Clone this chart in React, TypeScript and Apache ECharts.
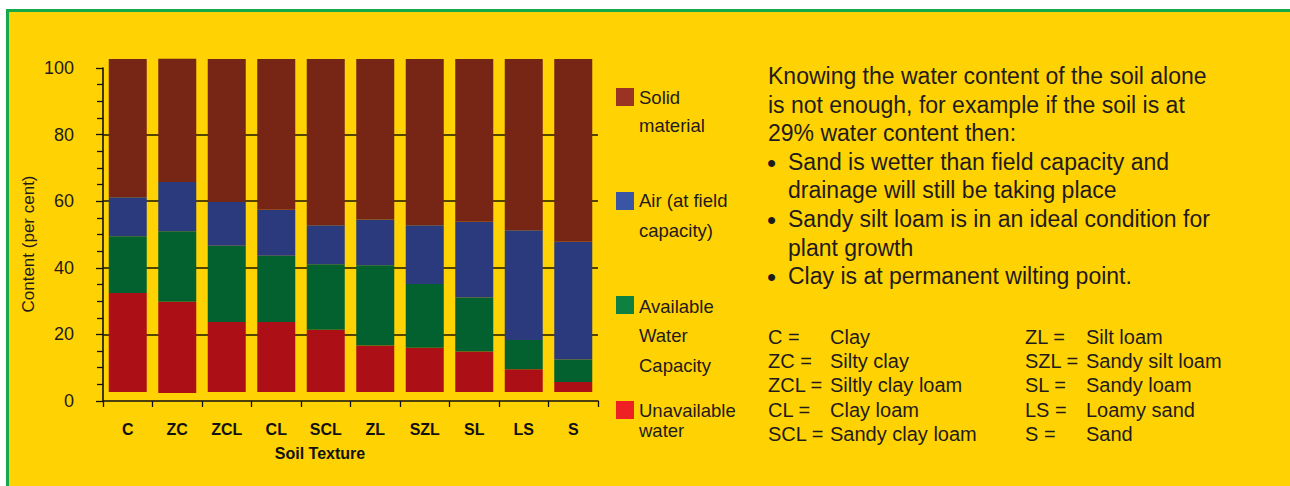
import React, { useEffect, useRef } from "react";
import * as echarts from "echarts";

const categories = ["C", "ZC", "ZCL", "CL", "SCL", "ZL", "SZL", "SL", "LS", "S"];
const baseOffset = [2.7, 2.4, 2.7, 2.7, 2.7, 2.7, 2.7, 2.7, 2.7, 2.7];
const unavailableWater = [29.7, 27.4, 21.0, 21.0, 18.7, 14.0, 13.3, 12.2, 6.8, 3.0];
const availableWater = [17.1, 21.2, 22.9, 19.9, 19.7, 24.1, 19.1, 16.2, 8.8, 6.8];
const airAtFieldCapacity = [11.7, 14.8, 13.2, 13.8, 11.7, 13.7, 17.7, 22.7, 33.0, 35.3];
const solidMaterial = [41.5, 37.0, 42.9, 45.3, 49.9, 48.2, 49.9, 48.9, 51.4, 54.9];

const seriesNames = ["Unavailable water", "Available Water Capacity", "Air (at field capacity)", "Solid material"];
const barColors = ["#ac1016", "#03602f", "#2b3a7c", "#772514"];

// legend, top to bottom
const legendLines = [
  ["Solid", "material"],
  ["Air (at field", "capacity)"],
  ["Available", "Water", "Capacity"],
  ["Unavailable", "water"],
];
const legendColors = ["#9b3322", "#3a55a4", "#0e8040", "#ee2024"];

const noteLines = [
  "Knowing the water content of the soil alone",
  "is not enough, for example if the soil is at",
  "29% water content then:",
];
const bulletLines = [
  ["Sand is wetter than field capacity and", "drainage will still be taking place"],
  ["Sandy silt loam is in an ideal condition for", "plant growth"],
  ["Clay is at permanent wilting point."],
];
const abbrevLeft = [
  ["C =", "Clay"],
  ["ZC =", "Silty clay"],
  ["ZCL =", "Siltly clay loam"],
  ["CL =", "Clay loam"],
  ["SCL =", "Sandy clay loam"],
];
const abbrevRight = [
  ["ZL =", "Silt loam"],
  ["SZL =", "Sandy silt loam"],
  ["SL =", "Sandy loam"],
  ["LS =", "Loamy sand"],
  ["S =", "Sand"],
];

const FONT = "'Liberation Sans', Arial, Helvetica, sans-serif";
const TXT = "#1f1b1c";

function txt(x: number, y: number, text: string, size: number, extra: any = {}) {
  return {
    type: "text",
    x,
    y,
    silent: true,
    style: {
      text,
      fontSize: size,
      fontFamily: FONT,
      fill: TXT,
      align: "left",
      verticalAlign: "middle",
      ...extra,
    },
  };
}

export default function App() {
  const ref = useRef<HTMLDivElement>(null);

  useEffect(() => {
    if (!ref.current) return;
    const chart = echarts.init(ref.current, null, { renderer: "svg" });

    const graphics: any[] = [];
    // axis titles
    graphics.push(txt(320, 453, "Soil Texture", 16, { fontWeight: "bold", align: "center", fill: "#111" }));
    graphics.push({
      ...txt(28, 244, "Content (per cent)", 17, { align: "center" }),
      rotation: Math.PI / 2,
    });

    // legend
    const legendSquareY = [88, 192, 296, 401];
    const legendLineY = [
      [97, 125],
      [200, 230],
      [306, 335, 365],
      [410, 430],
    ];
    legendLines.forEach((lines, i) => {
      graphics.push({
        type: "rect",
        silent: true,
        shape: { x: 616, y: legendSquareY[i], width: 18, height: 18 },
        style: { fill: legendColors[i] },
      });
      lines.forEach((l, j) => graphics.push(txt(639, legendLineY[i][j], l, 18.5)));
    });

    // notes
    let y = 76;
    const lh = 28.6;
    noteLines.forEach((l) => {
      graphics.push(txt(768, y, l, 23));
      y += lh;
    });
    bulletLines.forEach((b) => {
      graphics.push(txt(767, y + 1, "\u2022", 26));
      b.forEach((l) => {
        graphics.push(txt(788, y, l, 23));
        y += lh;
      });
    });

    // abbreviations
    abbrevLeft.forEach((a, i) => {
      const yy = 337 + i * 24.2;
      graphics.push(txt(768, yy, a[0], 20));
      graphics.push(txt(830, yy, a[1], 20));
    });
    abbrevRight.forEach((a, i) => {
      const yy = 337 + i * 24.2;
      graphics.push(txt(1025, yy, a[0], 20));
      graphics.push(txt(1086, yy, a[1], 20));
    });

    const dataSets = [unavailableWater, availableWater, airAtFieldCapacity, solidMaterial];

    chart.setOption({
      animation: false,
      backgroundColor: "transparent",
      textStyle: { fontFamily: FONT },
      grid: { left: 103, top: 68, right: 692, bottom: 85, containLabel: false },
      xAxis: {
        type: "category",
        data: categories,
        axisLine: { show: true, lineStyle: { color: "#111", width: 1.6 } },
        axisTick: { show: true, length: 6, lineStyle: { color: "#111", width: 1.3 } },
        axisLabel: {
          interval: 0,
          margin: 20,
          color: "#111",
          fontSize: 16,
          fontWeight: "bold",
          fontFamily: FONT,
        },
        splitLine: { show: false },
      },
      yAxis: {
        type: "value",
        min: 0,
        max: 100,
        interval: 20,
        axisLine: { show: true, lineStyle: { color: "#111", width: 1.6 } },
        axisTick: { show: true, length: 7, lineStyle: { color: "#111", width: 1.3 } },
        minorTick: { show: true, splitNumber: 4, length: 6, lineStyle: { color: "#111", width: 1.3 } },
        axisLabel: { margin: 29, color: TXT, fontSize: 18, fontFamily: FONT },
        splitLine: {
          show: true,
          showMinLine: false,
          showMaxLine: false,
          lineStyle: { color: "#1a1600", width: 1.5 },
        },
        minorSplitLine: { show: false },
      },
      series: [
        {
          type: "bar",
          name: "base",
          stack: "total",
          data: baseOffset,
          barWidth: 38,
          silent: true,
          clip: false,
          itemStyle: { color: "rgba(0,0,0,0)" },
        },
        ...dataSets.map((d, i) => ({
          type: "bar",
          name: seriesNames[i],
          stack: "total",
          data: d,
          barWidth: 38,
          clip: false,
          itemStyle: { color: barColors[i] },
        })),
      ],
      graphic: graphics,
    });

    return () => chart.dispose();
  }, []);

  return (
    <div style={{ position: "absolute", left: 0, top: 0, width: 1290, height: 486, background: "#ffffff", overflow: "hidden" }}>
      <div
        style={{
          position: "absolute",
          left: 6,
          top: 9,
          width: 1300,
          height: 500,
          background: "#ffd204",
          borderLeft: "3px solid #16a94b",
          borderTop: "3px solid #16a94b",
          boxSizing: "border-box",
        }}
      />
      <div ref={ref} style={{ position: "absolute", left: 0, top: 0, width: 1290, height: 486 }} />
    </div>
  );
}
